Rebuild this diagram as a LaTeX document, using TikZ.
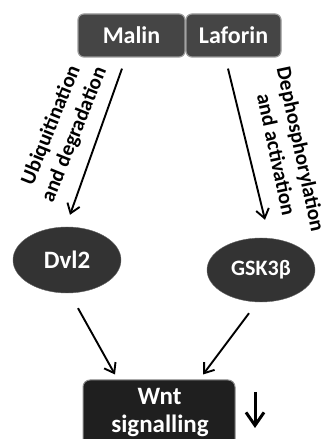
\documentclass[tikz,border=0pt]{standalone}
\usepackage{fontspec}
\setmainfont{Carlito}
\usetikzlibrary{arrows.meta,calc,shapes.geometric}
\begin{document}
\begin{tikzpicture}[x=1pt,y=1pt,
 topbox/.style={draw=black!40, fill=black!73, rounded corners=6pt, line width=1.2pt, text=white, font=\bfseries\fontsize{24}{28}\selectfont, minimum height=43pt, inner sep=0pt},
 blob/.style={ellipse, fill=black!80, draw=black!60, text=white, minimum width=108pt, minimum height=66pt, inner sep=0pt},
 wntbox/.style={draw=black!45, fill=black!88, rounded corners=7pt, line width=1pt, minimum width=152pt, minimum height=80pt},
 wnttxt/.style={text=white, font=\bfseries\fontsize{25}{28}\selectfont, anchor=base, inner sep=0pt},
 arr/.style={-{Straight Barb[length=9pt,width=13pt]}, line width=1.9pt},
 bigarr/.style={-{Straight Barb[length=13pt,width=18pt]}, line width=3pt},
 side/.style={font=\bfseries\fontsize{21}{25}\selectfont, align=center, inner sep=0pt}
]
\useasboundingbox (0,0) rectangle (332,439);
\clip (0,0) rectangle (332,439);
\node[topbox, minimum width=107pt] (malin) at (131.5,403.5) {Malin};
\node[topbox, minimum width=95pt] (laforin) at (233.5,403.5) {Laforin};
\node[blob, font=\bfseries\fontsize{25}{30}\selectfont] (dvl) at (67,179) {Dvl2};
\node[blob, minimum height=64pt, font=\bfseries\fontsize{22}{26}\selectfont] (gsk) at (261,169) {GSK3β};
\node[wntbox] (wnt) at (159,19) {};
\node[wnttxt] (wntA) at (159.5,34) {Wnt};
\node[wnttxt] (wntB) at (160,6) {signalling};
\node[side, rotate=68] (ubq) at (63,309) {Ubiquitination\\and degradation};
\node[side, rotate=-78] (deph) at (289,287) {Dephosphorylation\\and activation};
\draw[arr] ($(malin.south)+(-9.5,-11)$) -- ($(dvl.north)+(3,12)$);
\draw[arr] ($(laforin.south)+(-5.5,-11)$) -- ($(gsk.north)+(4,18)$);
\draw[arr] ($(dvl.south)+(11,-15)$) -- ($(wnt.north)+(-44,5)$);
\draw[arr] ($(gsk.south)+(-12,-11)$) -- ($(wnt.north)+(44,5)$);
\coordinate (dA) at (255,47);
\coordinate (dB) at (255,11);
\draw[bigarr] (dA) -- (dB);
\end{tikzpicture}
\end{document}
